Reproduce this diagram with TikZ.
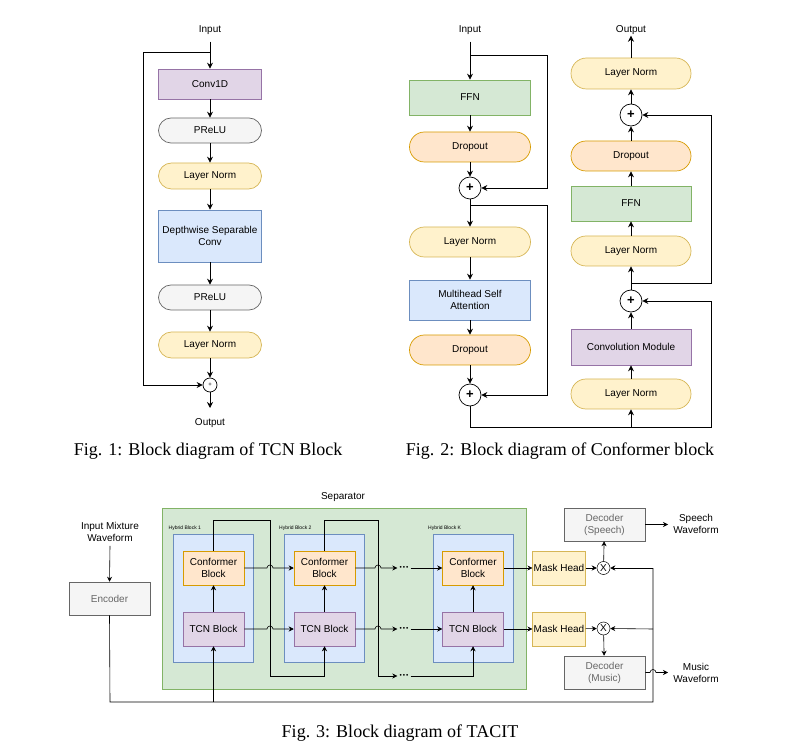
\documentclass[tikz,border=0pt]{standalone}
\usepackage{fontspec}
\setmainfont{Liberation Serif}
\setsansfont{Liberation Sans}
\usepackage{tikz}
\usetikzlibrary{arrows.meta}

\definecolor{purpF}{HTML}{E1D5E7}\definecolor{purpD}{HTML}{9673A6}
\definecolor{grayF}{HTML}{F5F5F5}\definecolor{grayD}{HTML}{666666}
\definecolor{yellF}{HTML}{FFF2CC}\definecolor{yellD}{HTML}{D6B656}
\definecolor{blueF}{HTML}{DAE8FC}\definecolor{blueD}{HTML}{6C8EBF}
\definecolor{greenF}{HTML}{D5E8D4}\definecolor{greenD}{HTML}{82B366}
\definecolor{orangeF}{HTML}{FFE6CC}\definecolor{orangeD}{HTML}{D79B00}

\tikzset{
	blk/.style={draw, line width=0.7pt, align=center, inner sep=1pt, font=\sffamily},
	purp/.style={blk, fill=purpF, draw=purpD},
	gry/.style={blk, fill=grayF, draw=grayD},
	yell/.style={blk, fill=yellF, draw=yellD},
	blu/.style={blk, fill=blueF, draw=blueD},
	grn/.style={blk, fill=greenF, draw=greenD},
	orng/.style={blk, fill=orangeF, draw=orangeD},
	sumnode/.style={circle, draw, fill=white, line width=0.7pt, inner sep=0pt, font=\sffamily},
	lbl/.style={font=\sffamily, align=center, inner sep=1pt},
	dots/.style={font=\sffamily\fontsize{6.5}{7}\selectfont, inner sep=2pt},
	figcap/.style={font=\fontsize{18}{20}\selectfont, inner sep=0pt},
	arr/.style={line width=0.8pt, -{Stealth[length=6pt,width=6pt]}},
	ln/.style={line width=0.8pt},
	sarr/.style={line width=0.6pt, -{Stealth[length=5pt,width=5pt]}},
	sln/.style={line width=0.6pt}
}

\begin{document}
\begin{tikzpicture}[x=1pt,y=-1pt]
	\useasboundingbox (0,0) rectangle (793,751);

	% Fig. 1
	\begin{scope}[every node/.append style={font=\sffamily\fontsize{10}{12}\selectfont}]
	\node[lbl] (in1) at (210,30) {Input};
	\node[purp, minimum width=103, minimum height=30] (conv) at (210,84) {Conv1D};
	\node[gry, minimum width=103, minimum height=25, rounded corners=12.5] (pr1) at (210,130.5) {PReLU};
	\node[yell, minimum width=103, minimum height=26, rounded corners=13] (ln1) at (210,176) {Layer Norm};
	\node[blu, minimum width=103, minimum height=52] (dsc) at (210,236) {Depthwise Separable\\Conv};
	\node[gry, minimum width=103, minimum height=25, rounded corners=12.5] (pr2) at (210,297.5) {PReLU};
	\node[yell, minimum width=103, minimum height=26, rounded corners=13] (ln2) at (210,345) {Layer Norm};
	\node[sumnode, minimum size=14, font=\sffamily\fontsize{6}{6}\selectfont] (s1) at (210,385) {+};
	\node[lbl] (out1) at (210,423) {Output};
	\end{scope}
	\coordinate (r1) at (210,52);
	\draw[arr] (in1.south) ++(0,6) -- (conv.north);
	\draw[arr] (conv) -- (pr1);
	\draw[arr] (pr1) -- (ln1);
	\draw[arr] (ln1) -- (dsc);
	\draw[arr] (dsc) -- (pr2);
	\draw[arr] (pr2) -- (ln2);
	\draw[arr] (ln2) -- (s1);
	\draw[arr] (r1) -| (143,385) -- (s1.west);
	\draw[arr] (s1.south) -- (210,408);
	\node[figcap] (c1) at (208,451) {Fig. 1: Block diagram of TCN Block};

	% Fig. 2
	\begin{scope}[every node/.append style={font=\sffamily\fontsize{12}{14}\selectfont}]
	\node[lbl] (in2) at (470,30) {Input};
	\node[grn, minimum width=121, minimum height=35] (ffa) at (470,97.5) {FFN};
	\node[orng, minimum width=121, minimum height=30, rounded corners=15] (dra) at (470,147) {Dropout};
	\node[sumnode, minimum size=22, font=\sffamily\bfseries\fontsize{13}{13}\selectfont] (sa) at (470,188) {+};
	\node[yell, minimum width=121, minimum height=30, rounded corners=15] (lna) at (470,242) {Layer Norm};
	\node[blu, minimum width=121, minimum height=40] (mhsa) at (470,300) {Multihead Self\\Attention};
	\node[orng, minimum width=121, minimum height=30, rounded corners=15] (drb) at (470,350) {Dropout};
	\node[sumnode, minimum size=22, font=\sffamily\bfseries\fontsize{13}{13}\selectfont] (sb) at (470,395) {+};

	\node[lbl] (out2) at (631,30) {Output};
	\node[yell, minimum width=120, minimum height=31, rounded corners=15.5] (lnb) at (631,73.5) {Layer Norm};
	\node[sumnode, minimum size=22, font=\sffamily\bfseries\fontsize{13}{13}\selectfont] (sc) at (631,115) {+};
	\node[orng, minimum width=120, minimum height=30, rounded corners=15] (drc) at (631,156) {Dropout};
	\node[grn, minimum width=120, minimum height=35] (ffb) at (631,203.5) {FFN};
	\node[yell, minimum width=120, minimum height=30, rounded corners=15] (lnc) at (631,251) {Layer Norm};
	\node[sumnode, minimum size=22, font=\sffamily\bfseries\fontsize{13}{13}\selectfont] (sd) at (631,301) {+};
	\node[purp, minimum width=120, minimum height=36] (cvm) at (631,347) {Convolution Module};
	\node[yell, minimum width=120, minimum height=30, rounded corners=15] (lnd) at (631,394) {Layer Norm};
	\end{scope}
	\coordinate (r2) at (470,55);
	\coordinate (r3) at (470,205);
	\coordinate (r4) at (631,427);
	\coordinate (r5) at (631,283);
	\draw[arr] (in2.south) ++(0,6) -- (ffa.north);
	\draw[arr] (ffa) -- (dra);
	\draw[arr] (dra) -- (sa);
	\draw[arr] (sa) -- (lna);
	\draw[arr] (lna) -- (mhsa);
	\draw[arr] (mhsa) -- (drb);
	\draw[arr] (drb) -- (sb);
	\draw[arr] (r2) -| (547,188) -- (sa.east);
	\draw[arr] (r3) -| (547,395) -- (sb.east);
	\draw[ln] (sb.south) |- (r4);
	\draw[arr] (r4) -| (711,301) -- (sd.east);
	\draw[arr] (r4) -- (lnd.south);
	\draw[arr] (lnd) -- (cvm);
	\draw[arr] (cvm) -- (sd);
	\draw[arr] (sd) -- (lnc);
	\draw[arr] (lnc) -- (ffb);
	\draw[arr] (ffb) -- (drc);
	\draw[arr] (drc) -- (sc);
	\draw[arr] (sc) -- (lnb);
	\draw[arr] (r5) -| (711,115) -- (sc.east);
	\draw[arr] (lnb.north) -- (out2.south);
	\node[figcap] (c2) at (560,451) {Fig. 2: Block diagram of Conformer block};

	% Fig. 3
	\begin{scope}[every node/.append style={font=\sffamily\fontsize{8}{9.5}\selectfont}]
	\node[grn, minimum width=364, minimum height=181, line width=0.5pt] (sep) at (344,598.5) {};
	\node[lbl] at (343,497) {Separator};
	\foreach \nm/\cx/\tx in {h1/213.5/1, h2/324/2, hk/473/K} {
		\node[blu, minimum width=80, minimum height=128, line width=0.5pt] (\nm) at (\cx,598) {};
		\node[lbl, anchor=west, font=\sffamily\fontsize{5}{6}\selectfont] at (\cx-46,528) {Hybrid Block \tx};
	}
	\node[orng, minimum width=61, minimum height=34, line width=0.5pt] (cf1) at (213.5,568) {Conformer\\Block};
	\node[purp, minimum width=61, minimum height=34, line width=0.5pt] (tc1) at (213.5,629) {TCN Block};
	\node[orng, minimum width=61, minimum height=34, line width=0.5pt] (cf2) at (324.5,568) {Conformer\\Block};
	\node[purp, minimum width=61, minimum height=34, line width=0.5pt] (tc2) at (324.5,629) {TCN Block};
	\node[orng, minimum width=61, minimum height=34, line width=0.5pt] (cfk) at (473,568) {Conformer\\Block};
	\node[purp, minimum width=61, minimum height=34, line width=0.5pt] (tck) at (473,629) {TCN Block};
	\node[dots] (dt1) at (404,568) {•\,•\,•};
	\node[dots] (dt2) at (404,629) {•\,•\,•};
	\node[dots] (dt3) at (404,676) {•\,•\,•};
	\node[yell, minimum width=46, minimum height=34, line width=0.5pt] (mk1) at (559,568) {Mask Head};
	\node[yell, minimum width=46, minimum height=34, line width=0.5pt] (mk2) at (559,629) {Mask Head};
	\node[sumnode, minimum size=13, line width=0.5pt] (ms) at (603.5,568) {X};
	\node[sumnode, minimum size=13, line width=0.5pt] (mm) at (603.5,628.5) {X};
	\node[gry, minimum width=81, minimum height=33, line width=0.5pt, text=grayD] (ds) at (604.5,524.5) {Decoder\\(Speech)};
	\node[gry, minimum width=81, minimum height=33, line width=0.5pt, text=grayD] (dm) at (604.5,672.5) {Decoder\\(Music)};
	\node[lbl] (ws) at (696,524) {Speech\\Waveform};
	\node[lbl] (wm) at (696,673) {Music\\Waveform};
	\node[gry, minimum width=81, minimum height=33, line width=0.5pt, text=grayD] (enc) at (109.5,598.5) {Encoder};
	\node[lbl] (inm) at (110,532) {Input Mixture\\Waveform};
	\end{scope}
	\coordinate (e1) at (110,702);
	\coordinate (e2) at (653,702);
	\draw[sarr] (inm.south) ++(0,3) -- (enc.north);
	\draw[sln] (enc.south) -- (e1) -- (e2) -- (653,568);
	\draw[sarr] (653,568) -- (ms.east);
	\draw[sarr] (653,629) -- (mm.east);
	\draw[sarr] (213.5,702) -- (tc1.south);
	\draw[sarr] (tc1) -- (cf1);
	\draw[sarr] (tc2) -- (cf2);
	\draw[sarr] (tck) -- (cfk);
	% hops over the skip lines
	\draw[sarr] (cf1.east) -- (267,568) arc[start angle=180,end angle=360,radius=3] -- (cf2.west);
	\draw[sarr] (tc1.east) -- (267,629) arc[start angle=180,end angle=360,radius=3] -- (tc2.west);
	\draw[sarr] (cf2.east) -- (375,568) arc[start angle=180,end angle=360,radius=3] -- (dt1.west);
	\draw[sarr] (tc2.east) -- (375,629) arc[start angle=180,end angle=360,radius=3] -- (dt2.west);
	\draw[sarr] (cf1.north) |- (270,520) -- (270,676) -| (tc2.south);
	\draw[sln] (cf2.north) |- (378,520) -- (378,676);
	\draw[sarr] (378,676) -- (dt3.west);
	\draw[sarr] (dt1.east) -- (cfk.west);
	\draw[sarr] (dt2.east) -- (tck.west);
	\draw[sarr] (dt3.east) -| (tck.south);
	\draw[sarr] (cfk) -- (mk1);
	\draw[sarr] (tck) -- (mk2);
	\draw[sarr] (mk1) -- (ms);
	\draw[sarr] (mk2) -- (mm);
	\draw[sarr] (ms) -- (ds);
	\draw[sarr] (mm) -- (dm);
	\draw[sarr] (ds.east) -- (668,524.5);
	\draw[sarr] (dm.east) -- (650,672.5) arc[start angle=180,end angle=360,radius=3] -- (668,672.5);
	\node[figcap] (c3) at (400,733) {Fig. 3: Block diagram of TACIT};
\end{tikzpicture}
\end{document}
